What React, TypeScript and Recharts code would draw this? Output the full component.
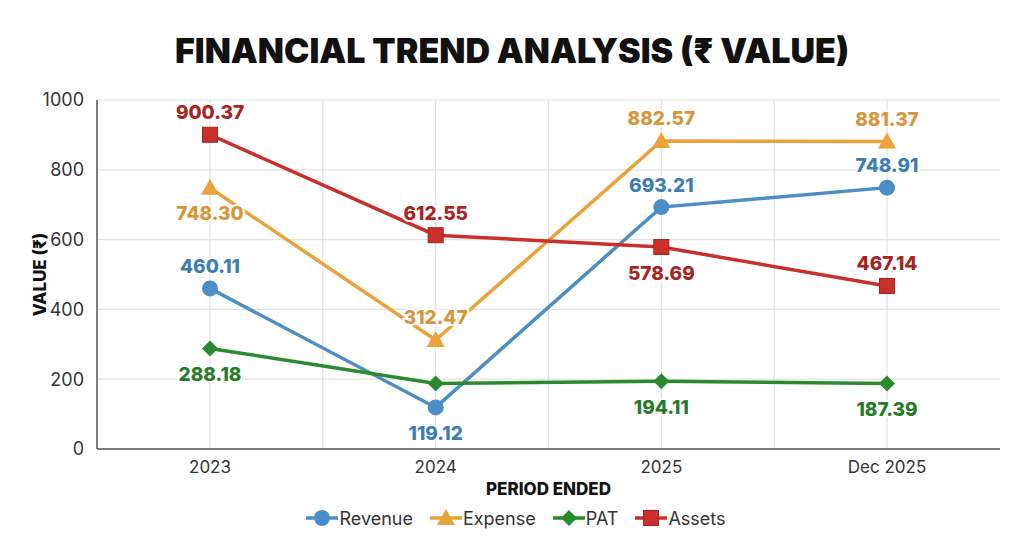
import { LineChart, Line, XAxis, YAxis, CartesianGrid, Legend, LabelList, Label } from 'recharts';

const periods = ['2023', '2024', '2025', 'Dec 2025'];
const revenue = [460.11, 119.12, 693.21, 748.91];
const expense = [748.3, 312.47, 882.57, 881.37];
const pat = [288.18, 188.0, 194.11, 187.39];
const assets = [900.37, 612.55, 578.69, 467.14];
const yTicks = [0, 200, 400, 600, 800, 1000];

type Shape = 'circle' | 'triangle' | 'diamond' | 'square';

// per-series look; label side per point (null = no label)
const SERIES: {
  key: string;
  line: string;
  text: string;
  shape: Shape;
  sides: (string | null)[];
}[] = [
  { key: 'Revenue', line: '#4b8ec6', text: '#3d7db3', shape: 'circle', sides: ['top', 'bottom', 'top', 'top'] },
  { key: 'Expense', line: '#eaa23a', text: '#d8953a', shape: 'triangle', sides: ['bottom', 'top', 'top', 'top'] },
  { key: 'PAT', line: '#2a8a2e', text: '#287a2a', shape: 'diamond', sides: ['bottom', null, 'bottom', 'bottom'] },
  { key: 'Assets', line: '#c9302b', text: '#a82420', shape: 'square', sides: ['top', 'top', 'bottom', 'top'] },
];

const data = periods.map((period, i) => ({
  period,
  Revenue: revenue[i],
  Expense: expense[i],
  PAT: pat[i],
  Assets: assets[i],
}));

const FONT = 'Inter, "Open Sans", sans-serif';

function Marker({ shape, cx, cy, color }: { shape: Shape; cx: number; cy: number; color: string }) {
  if (shape === 'circle') return <circle cx={cx} cy={cy} r={8} fill={color} />;
  if (shape === 'triangle')
    return <polygon points={`${cx},${cy - 9} ${cx - 9},${cy + 7} ${cx + 9},${cy + 7}`} fill={color} />;
  if (shape === 'diamond')
    return <polygon points={`${cx},${cy - 8} ${cx + 8},${cy} ${cx},${cy + 8} ${cx - 8},${cy}`} fill={color} />;
  return <rect x={cx - 7.5} y={cy - 7.5} width={15} height={15} fill={color} stroke="#9e2520" strokeWidth={1} />;
}

function LegendContent() {
  return (
    <div
      style={{ display: 'flex', justifyContent: 'center', alignItems: 'center', gap: 17, height: 26, paddingLeft: 12 }}
    >
      {SERIES.map((s) => (
        <div key={s.key} style={{ display: 'flex', alignItems: 'center' }}>
          <svg width={32} height={20}>
            <line x1={0} y1={10} x2={32} y2={10} stroke={s.line} strokeWidth={3.5} />
            <Marker shape={s.shape} cx={16} cy={10} color={s.line} />
          </svg>
          <span style={{ fontFamily: FONT, fontSize: 18, color: '#333', marginLeft: 1 }}>{s.key}</span>
        </div>
      ))}
    </div>
  );
}

export default function App() {
  return (
    <div style={{ position: 'fixed', left: 0, top: 0, width: 1024, height: 541, background: '#fff' }}>
      <div
        style={{
          position: 'absolute',
          top: 30,
          left: 0,
          width: 1024,
          textAlign: 'center',
          fontFamily: FONT,
          fontWeight: 900,
          fontSize: 34,
          color: '#111',
          lineHeight: '42px',
        }}
      >
        FINANCIAL TREND ANALYSIS (₹ VALUE)
      </div>
      <LineChart width={1024} height={541} data={data} margin={{ top: 100, right: 24, left: 20, bottom: 10 }}>
        <CartesianGrid
          stroke="#e2e2e2"
          strokeWidth={1.2}
          verticalCoordinatesGenerator={({ offset }: any) =>
            [1, 2, 3, 4, 5, 6, 7].map((i) => offset.left + (i * offset.width) / 8)
          }
        />
        <XAxis
          dataKey="period"
          height={56}
          padding={{ left: 113, right: 113 }}
          tickLine={false}
          tickMargin={6}
          axisLine={{ stroke: '#555', strokeWidth: 1.5 }}
          tick={{ fontFamily: FONT, fontSize: 17, fill: '#333' }}
        >
          <Label
            content={({ viewBox }: any) => (
              <text
                x={viewBox.x + viewBox.width / 2}
                y={viewBox.y + 40}
                textAnchor="middle"
                dominantBaseline="central"
                fontFamily={FONT}
                fontWeight={800}
                fontSize={17}
                fill="#111"
              >
                PERIOD ENDED
              </text>
            )}
          />
        </XAxis>
        <YAxis
          width={77}
          domain={[0, 1000]}
          ticks={yTicks}
          tickLine={false}
          tickMargin={7}
          axisLine={{ stroke: '#555', strokeWidth: 1.5 }}
          tick={{ fontFamily: FONT, fontSize: 18, fill: '#333' }}
        >
          <Label
            content={({ viewBox }: any) => {
              const cx = viewBox.x + 20;
              const cy = viewBox.y + viewBox.height / 2;
              return (
                <text
                  x={cx}
                  y={cy}
                  transform={`rotate(-90, ${cx}, ${cy})`}
                  textAnchor="middle"
                  dominantBaseline="central"
                  fontFamily={FONT}
                  fontWeight={800}
                  fontSize={17}
                  fill="#111"
                >
                  VALUE (₹)
                </text>
              );
            }}
          />
        </YAxis>
        <Legend verticalAlign="bottom" content={() => <LegendContent />} />
        {SERIES.map((s) => (
          <Line
            key={s.key}
            dataKey={s.key}
            stroke={s.line}
            strokeWidth={3.5}
            isAnimationActive={false}
            dot={(p: any) => <Marker key={`${s.key}-${p.index}`} shape={s.shape} cx={p.cx} cy={p.cy} color={s.line} />}
            activeDot={false}
          >
            <LabelList
              dataKey={s.key}
              content={(p: any) => {
                const side = s.sides[p.index];
                if (!side) return null;
                const dy = side === 'top' ? -22 : 26;
                return (
                  <text
                    x={p.x}
                    y={p.y + dy}
                    textAnchor="middle"
                    dominantBaseline="central"
                    fontFamily={FONT}
                    fontWeight={800}
                    fontSize={19}
                    fill={s.text}
                    stroke="#fff"
                    strokeWidth={4}
                    paintOrder="stroke"
                  >
                    {Number(p.value).toFixed(2)}
                  </text>
                );
              }}
            />
          </Line>
        ))}
      </LineChart>
    </div>
  );
}
